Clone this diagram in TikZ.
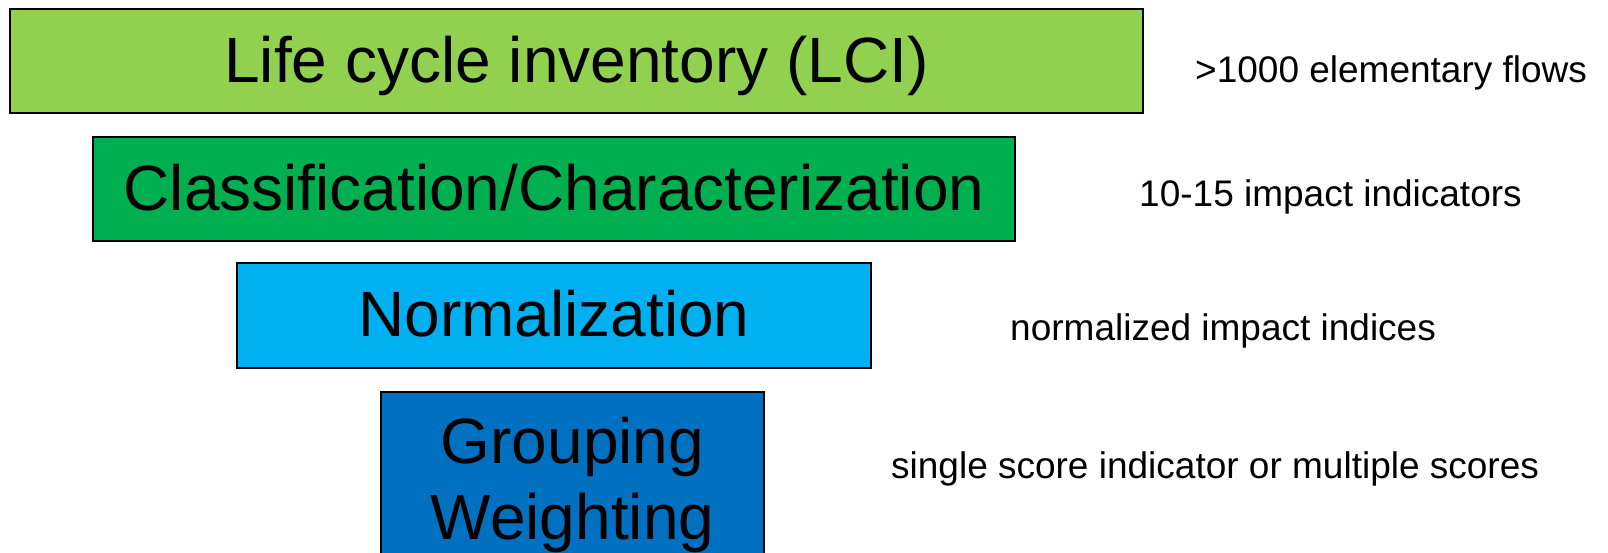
\documentclass[tikz,border=0pt]{standalone}
\usepackage{fontspec}
\setmainfont{Liberation Sans}
\usetikzlibrary{positioning}
\definecolor{lcigreen}{HTML}{92D050}
\definecolor{chargreen}{HTML}{00B050}
\definecolor{normblue}{HTML}{00B0F0}
\definecolor{weightblue}{HTML}{0070C0}
\tikzset{
    stage/.style={draw, line width=1.5pt, rectangle, inner sep=0pt, text height=46pt, text depth=4pt, font=\fontsize{64}{76}\selectfont},
    note/.style={anchor=base west, inner sep=0pt, font=\fontsize{37}{44}\selectfont}
}

\begin{document}
\begin{tikzpicture}[x=1pt, y=-1pt]
    \useasboundingbox (0,0) rectangle (1608,552);
    \node[stage, fill=lcigreen, minimum width=1133pt, minimum height=104pt] (lci) at (576.5,61) {Life cycle inventory (LCI)};
    \node[stage, fill=chargreen, minimum width=922pt, minimum height=104pt] (charact) at (554,189) {Classification/Characterization};
    \node[stage, fill=normblue, minimum width=634pt, minimum height=105pt] (norm) at (554,315.5) {Normalization};
    % two lines, runs past the bottom edge
    \node[stage, fill=weightblue, anchor=north, minimum width=383pt, inner ysep=26pt, text height=122pt, text depth=13pt, align=center] (weight) at (572.5,391) {Grouping\\Weighting};
    \node[note] (flows) at (1195,82) {>1000 elementary flows};
    \node[note] (indicators) at (1139,206) {10-15 impact indicators};
    \node[note] (indices) at (1010,340) {normalized impact indices};
    \node[note] (scores) at (891,478) {single score indicator or multiple scores};
\end{tikzpicture}
\end{document}
